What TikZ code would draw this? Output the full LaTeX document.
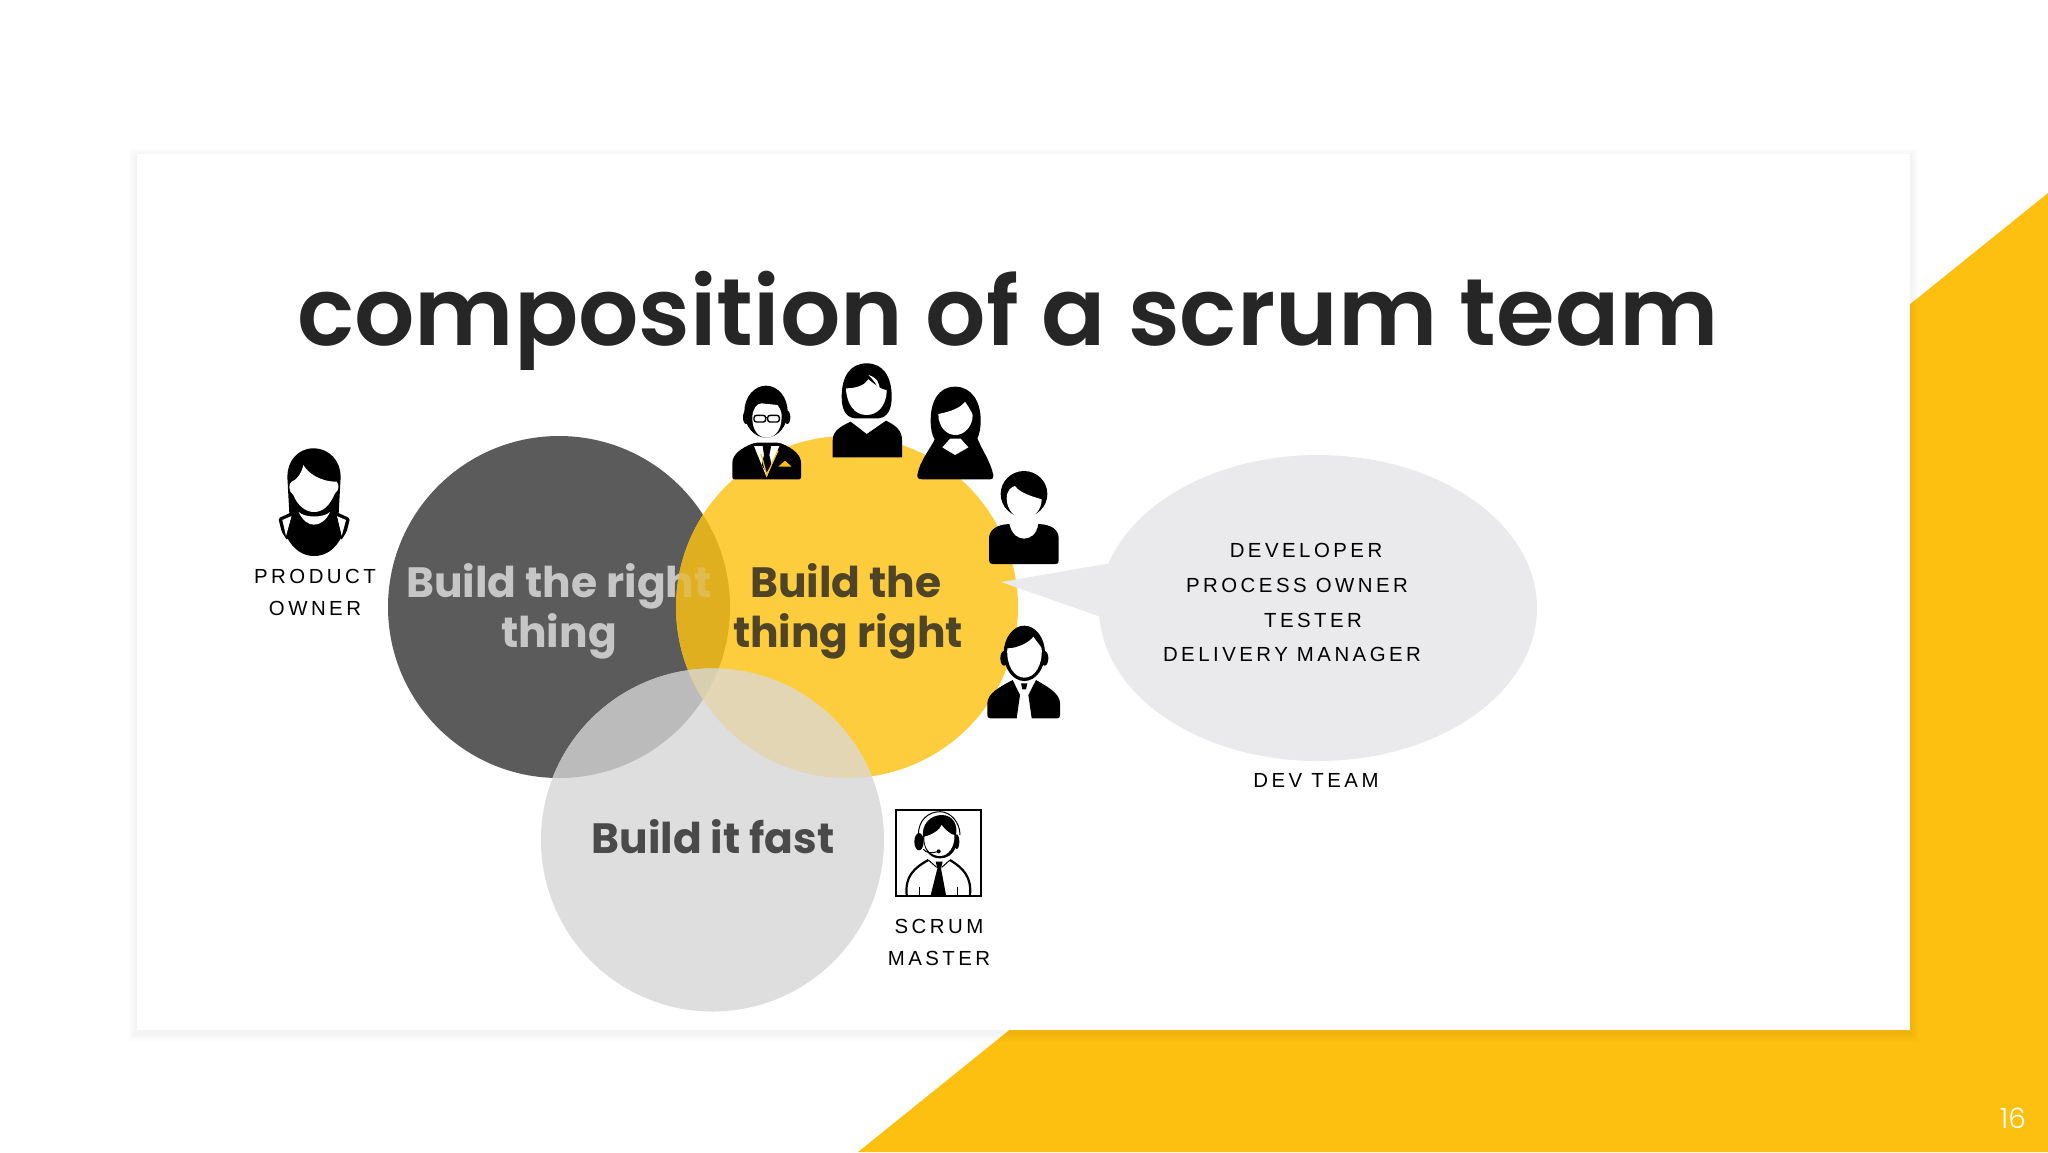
\documentclass[tikz,border=0pt]{standalone}
\usepackage{fontspec}
\setmainfont{Liberation Sans}
\newfontfamily\lab{Liberation Sans}[LetterSpace=17]
\newfontfamily\titlef{Poppins SemiBold}
\newfontfamily\heavyf{Poppins Bold}
\newfontfamily\numf{Poppins Light}
\definecolor{brand}{HTML}{FDC010}
\definecolor{cdark}{HTML}{5B5B5B}
\definecolor{cyel}{HTML}{FECD3E}
\definecolor{cgray}{HTML}{DEDEDE}
\definecolor{cDY}{HTML}{E0AF20}
\definecolor{cDG}{HTML}{BBBBBB}
\definecolor{cYG}{HTML}{E2D6B5}
\definecolor{cDYG}{HTML}{D8CFAE}
\definecolor{cbub}{HTML}{EAE9EC}
\definecolor{ctitle}{HTML}{262626}
\definecolor{tlight}{HTML}{C6C6C6}
\definecolor{tover}{HTML}{E0BC50}
\definecolor{tbrown}{HTML}{4F4526}
\definecolor{tfast}{HTML}{4A4A4A}
\tikzset{
  labeltext/.style={font=\lab\fontsize{10.2}{12}\selectfont,text=black,inner sep=0pt,anchor=base},
  buildtext/.style={font=\heavyf\fontsize{21.2}{25}\selectfont,inner sep=0pt,anchor=base},
  iconzoom/.style={x=0.16667pt,y=-0.16667pt}
}
\def\dkc{(559,607) circle[radius=171]}
\def\yec{(847,607) circle[radius=171]}
\def\grc{(712.5,840) circle[radius=171.5]}
\begin{document}
\begin{tikzpicture}[x=0.5pt,y=-0.5pt]
\useasboundingbox (0,0) rectangle (2048,1152);
\fill[white] (0,0) rectangle (2048,1152);
% yellow corner
\fill[brand] (858,1152) -- (2048,193) -- (2048,1152) -- cycle;
% slide shadow
\foreach \d in {8,6,4,2}{
  \fill[black,opacity=0.012] (137-\d,154-\d+3) rectangle (1910+\d,1030+\d+3);
}
\fill[white] (137,154) rectangle (1910,1030);
% title
\node[font=\titlef\fontsize{47.4}{60}\selectfont,text=ctitle,inner sep=0pt,anchor=base] (title) at (1008,345) {composition of a scrum team};
% circles
\fill[cdark] \dkc;
\node[buildtext,text=tlight] (rightA) at (559,597) {Build the right};
\node[buildtext,text=tlight] (rightB) at (559,647) {thing};
\fill[cyel] \yec;
\begin{scope}\clip \dkc; \fill[cDY] \yec;\end{scope}
\begin{scope}\clip \yec;
  \node[buildtext,text=tover] (rightC) at (559,597) {Build the right};
\end{scope}
\fill[cgray] \grc;
\begin{scope}\clip \grc; \fill[cDG] \dkc; \fill[cYG] \yec;
  \begin{scope}\clip \dkc; \fill[cDYG] \yec;\end{scope}
\end{scope}
\node[buildtext,text=tbrown] (thingA) at (846,597) {Build the};
\node[buildtext,text=tbrown] (thingB) at (848,647) {thing right};
\node[buildtext,text=tfast] (fast) at (713,853) {Build it fast};
% bubble
\fill[cbub] (1318,608) ellipse[x radius=219,y radius=153];
\fill[cbub] (1001,582) -- (1112,563) -- (1104,618) -- cycle;
\node[labeltext] (l1) at (1306,557) {DEVELOPER};
\node[labeltext] (l2) at (1297,592) {PROCESS OWNER};
\node[labeltext] (l3) at (1313,627) {TESTER};
\node[labeltext] (l4) at (1292,661) {DELIVERY MANAGER};
\node[labeltext] (l5) at (1316,787) {DEV TEAM};
\node[labeltext] (l6) at (315,583) {PRODUCT};
\node[labeltext] (l7) at (315,615) {OWNER};
\node[labeltext] (l8) at (939,933) {SCRUM};
\node[labeltext] (l9) at (939,965) {MASTER};
% page number
\node[font=\numf\fontsize{14}{18}\selectfont,text=white,inner sep=0pt,anchor=base] (num) at (2013,1128) {16};
% team icons
\begin{scope}[shift={(690,340)},iconzoom]
 % suit man
 \fill (228,215) ellipse[x radius=65,y radius=78];
 \fill (168,232) ellipse[x radius=9,y radius=20];
 \fill (292,232) ellipse[x radius=9,y radius=20];
 \fill[white] (187,228) .. controls (190,205) and (200,190) .. (215,190) -- (262,195) .. controls (270,205) and (275,215) .. (275,228) .. controls (275,270) and (255,293) .. (230,293) .. controls (205,293) and (185,270) .. (187,228) -- cycle;
 \draw[line width=0.7pt,rounded corners=1.2pt] (192,226) rectangle (227,246);
 \draw[line width=0.7pt,rounded corners=1.2pt] (233,226) rectangle (268,246);
 \draw[line width=0.7pt] (227,232) -- (233,232);
 \fill[rounded corners=1pt] (127,418) -- (127,375) .. controls (127,345) and (150,325) .. (195,308) -- (268,308) .. controls (310,325) and (333,345) .. (333,375) -- (333,418) -- cycle;
 \fill[white] (192,318) -- (268,318) -- (230,412) -- cycle;
 \fill (218,320) .. controls (218,312) and (243,312) .. (243,320) -- (238,345) -- (245,375) -- (230,398) -- (215,375) -- (222,345) -- cycle;
 \draw[brand,line width=0.6pt] (213,342) -- (230,405) -- (264,332);
 \fill[brand] (265,380) -- (285,362) -- (305,380) -- cycle;
 % bob woman
 \fill (530,70) .. controls (480,70) and (455,110) .. (455,170) .. controls (455,205) and (465,232) .. (495,235) -- (565,235) .. controls (595,232) and (605,205) .. (605,170) .. controls (605,110) and (580,70) .. (530,70) -- cycle;
 \fill[white] (468,145) .. controls (500,145) and (525,135) .. (535,118) .. controls (550,130) and (575,150) .. (590,150) .. controls (590,200) and (560,225) .. (530,225) .. controls (495,225) and (470,195) .. (468,145) -- cycle;
 \fill[white] (535,105) .. controls (560,112) and (572,130) .. (568,155) .. controls (560,130) and (550,120) .. (535,105) -- cycle;
 \fill (428,352) -- (428,300) .. controls (428,270) and (460,255) .. (482,245) -- (530,282) -- (588,242) .. controls (615,255) and (636,270) .. (636,300) -- (636,352) -- cycle;
 % long hair woman
 \fill (795,140) .. controls (745,140) and (722,185) .. (722,240) .. controls (722,265) and (725,285) .. (735,300) -- (860,300) .. controls (870,280) and (872,260) .. (872,240) .. controls (872,185) and (845,140) .. (795,140) -- cycle;
 \fill[white] (745,222) .. controls (780,215) and (810,205) .. (825,185) .. controls (835,200) and (845,215) .. (848,225) .. controls (848,262) and (820,285) .. (797,285) .. controls (770,285) and (745,262) .. (745,222) -- cycle;
 \fill (682,405) .. controls (690,360) and (720,330) .. (738,290) -- (860,290) .. controls (875,330) and (900,360) .. (910,405) .. controls (910,418) and (905,418) .. (895,418) -- (700,418) .. controls (685,418) and (682,415) .. (682,405) -- cycle;
 \fill[white] (757,322) -- (780,296) -- (812,296) -- (835,322) -- (795,345) -- cycle;
 % short hair
 \fill (1002,462) ellipse[x radius=70,y radius=69];
 \fill[white] (950,475) .. controls (950,450) and (965,440) .. (975,438) .. controls (990,460) and (1030,470) .. (1055,478) .. controls (1055,510) and (1030,536) .. (1003,536) .. controls (975,536) and (950,510) .. (950,475) -- cycle;
 \fill (897,660) -- (897,595) .. controls (897,570) and (920,553) .. (958,552) .. controls (965,585) and (985,596) .. (1002,596) .. controls (1020,596) and (1040,585) .. (1045,552) .. controls (1085,553) and (1106,570) .. (1106,595) -- (1106,660) .. controls (1106,672) and (1100,672) .. (1095,672) -- (908,672) .. controls (900,672) and (897,668) .. (897,660) -- cycle;
 % man with jacket
 \fill (1003,940) ellipse[x radius=62,y radius=83];
 \fill (942,955) ellipse[x radius=11,y radius=22];
 \fill (1064,955) ellipse[x radius=11,y radius=22];
 \fill[white] (952,925) .. controls (985,925) and (1020,905) .. (1030,890) .. controls (1040,905) and (1050,915) .. (1055,925) .. controls (1058,975) and (1035,1013) .. (1003,1013) .. controls (972,1013) and (948,975) .. (952,925) -- cycle;
 \fill (892,1125) -- (892,1090) .. controls (892,1060) and (930,1040) .. (968,1020) -- (990,1065) -- (980,1135) -- (900,1135) .. controls (894,1135) and (892,1130) .. (892,1125) -- cycle;
 \fill (1110,1125) -- (1110,1090) .. controls (1110,1060) and (1072,1040) .. (1038,1020) -- (1015,1065) -- (1025,1135) -- (1102,1135) .. controls (1108,1135) and (1110,1130) .. (1110,1125) -- cycle;
 \fill (993,1030) -- (1012,1030) -- (1008,1048) -- (997,1048) -- cycle;
\end{scope}
% product owner icon
\begin{scope}[shift={(240,430)},iconzoom]
 \fill[rounded corners=0.8pt] (115,265) -- (158,245) -- (142,332) -- (125,305) -- cycle;
 \fill[rounded corners=0.8pt] (330,265) -- (287,245) -- (303,332) -- (320,305) -- cycle;
 \fill[white] (127,270) -- (155,258) -- (138,318) -- cycle;
 \fill[white] (318,270) -- (290,258) -- (305,318) -- cycle;
 \fill (220,55) .. controls (172,55) and (142,95) .. (142,140) -- (148,250) -- (156,255) -- (140,320) .. controls (160,360) and (190,378) .. (222,378) .. controls (255,378) and (285,360) .. (305,320) -- (290,255) -- (296,250) -- (302,140) .. controls (302,95) and (270,55) .. (220,55) -- cycle;
 \fill[white] (190,105) .. controls (205,130) and (240,155) .. (290,155) .. controls (298,165) and (298,180) .. (285,190) .. controls (270,225) and (250,246) .. (222,246) .. controls (195,246) and (172,225) .. (160,195) .. controls (145,185) and (145,160) .. (155,155) .. controls (170,150) and (185,130) .. (190,105) -- cycle;
 \fill[white] (176,246) .. controls (188,272) and (205,284) .. (222,284) .. controls (240,284) and (258,272) .. (270,246) .. controls (250,264) and (195,264) .. (176,246) -- cycle;
\end{scope}
% scrum master icon
\begin{scope}[shift={(860,780)},iconzoom]
 \draw[line width=0.9pt] (107,90) rectangle (363,347);
 \draw[line width=0.5pt] (175,165) .. controls (175,120) and (205,95) .. (240,95) .. controls (270,95) and (300,125) .. (300,165);
 \fill (177,185) ellipse[x radius=14,y radius=26];
 \fill (290,185) ellipse[x radius=8,y radius=22];
 \fill (190,180) .. controls (180,130) and (215,105) .. (245,105) .. controls (280,105) and (295,135) .. (287,170) -- (287,200) .. controls (280,225) and (260,235) .. (240,235) .. controls (215,235) and (195,220) .. (190,180) -- cycle;
 \fill[white] (193,170) .. controls (215,165) and (240,150) .. (245,135) .. controls (255,150) and (275,165) .. (283,165) .. controls (285,200) and (265,228) .. (240,228) .. controls (212,228) and (190,205) .. (193,170) -- cycle;
 \draw[line width=0.5pt] (190,208) .. controls (200,220) and (215,220) .. (232,215);
 \fill (236,214) circle[radius=6];
 \draw[line width=1.1pt] (140,345) .. controls (135,290) and (160,265) .. (205,240);
 \draw[line width=1.1pt] (270,240) .. controls (310,265) and (335,290) .. (330,345);
 \draw[line width=0.5pt] (205,240) -- (230,262);
 \draw[line width=0.5pt] (270,240) -- (245,262);
 \fill (227,245) -- (248,245) -- (243,265) -- (258,345) -- (212,345) -- (232,265) -- cycle;
 \draw[line width=0.6pt] (178,320) -- (178,345);
 \draw[line width=0.6pt] (292,320) -- (292,345);
\end{scope}
\end{tikzpicture}
\end{document}
